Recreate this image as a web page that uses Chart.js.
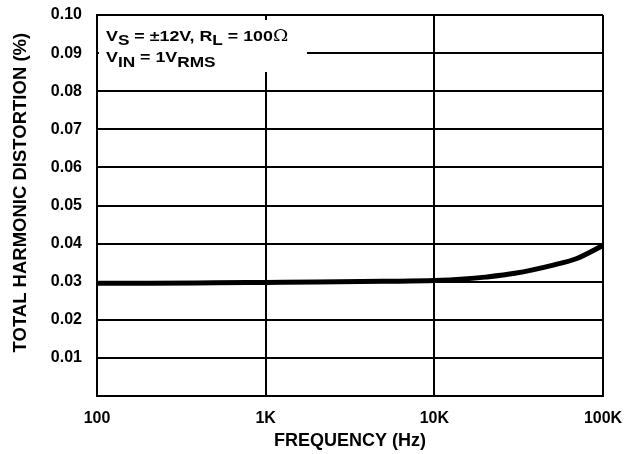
<!DOCTYPE html>
<html>
<head>
<meta charset="utf-8">
<script src="https://cdn.jsdelivr.net/npm/chart.js@4/dist/chart.umd.min.js"></script>
<style>
  html, body { margin: 0; padding: 0; background: #fff; }
  #wrap { width: 642px; height: 454px; position: relative; }
</style>
</head>
<body>
<div id="wrap"><canvas id="c"></canvas></div>
<script>
// Frequency sweep (Hz) and measured THD (%)
const frequencyHz = [100, 200, 500, 1000, 2000, 5000, 10000, 15000, 20000, 30000, 50000, 70000, 100000];
const thdPercent  = [0.0296, 0.0296, 0.0297, 0.0298, 0.0299, 0.0301, 0.0303, 0.0307, 0.0312, 0.0322, 0.0343, 0.0361, 0.0395];

// Axis tick values and labels
const xTickValues = [100, 1000, 10000, 100000];
const xTickLabels = ['100', '1K', '10K', '100K'];
const yTickValues = [0.01, 0.02, 0.03, 0.04, 0.05, 0.06, 0.07, 0.08, 0.09, 0.10];

const FONT = '"Liberation Sans", Arial, sans-serif';

// Test-condition box in the upper-left corner of the plot
const conditionLines = [
  [{ t: 'V' }, { t: 'S', sub: true }, { t: ' = \u00B112V, R' }, { t: 'L', sub: true }, { t: ' = 100' }, { t: '\u03A9', omega: true }],
  [{ t: 'V' }, { t: 'IN', sub: true }, { t: ' = 1V' }, { t: 'RMS', sub: true }]
];

const conditionBox = {
  id: 'conditionBox',
  afterDatasetsDraw(chart) {
    const { ctx, chartArea } = chart;
    const left = chartArea.left + 2;
    const top = chartArea.top + 5;
    ctx.save();
    ctx.fillStyle = '#fff';
    ctx.fillRect(left, top, 208, 52);
    ctx.fillStyle = '#000';
    ctx.textBaseline = 'alphabetic';
    const baselines = [top + 21, top + 42];
    const subDrop = [4, 5];
    const sx = 1.15;
    conditionLines.forEach((runs, i) => {
      let x = (left + 7) / sx;
      runs.forEach(r => {
        let y = baselines[i];
        if (r.sub) { ctx.font = 'bold 15px ' + FONT; y += subDrop[i]; }
        else if (r.omega) { ctx.font = '16px "DejaVu Serif", serif'; }
        else { ctx.font = 'bold 15.5px ' + FONT; }
        ctx.save();
        ctx.scale(sx, 1);
        ctx.fillText(r.t, x, y);
        ctx.restore();
        x += ctx.measureText(r.t).width;
      });
    });
    ctx.restore();
  }
};

new Chart(document.getElementById('c'), {
  type: 'line',
  data: {
    datasets: [{
      data: frequencyHz.map((f, i) => ({ x: f, y: thdPercent[i] })),
      borderColor: '#000',
      borderWidth: 5,
      pointRadius: 0,
      fill: false,
      cubicInterpolationMode: 'monotone'
    }]
  },
  plugins: [conditionBox],
  options: {
    responsive: true,
    maintainAspectRatio: false,
    animation: false,
    layout: { padding: { top: 15, right: 39, bottom: 0, left: 0 } },
    plugins: { legend: { display: false }, tooltip: { enabled: false } },
    scales: {
      x: {
        type: 'logarithmic',
        min: 100,
        max: 100000,
        afterBuildTicks(scale) { scale.ticks = xTickValues.map(v => ({ value: v })); },
        afterFit(scale) { scale.height = 58; scale.paddingLeft = 0; scale.paddingRight = 0; },
        ticks: {
          color: '#000',
          font: { family: FONT, size: 16, weight: 'bold' },
          padding: 13,
          maxRotation: 0,
          autoSkip: false,
          callback(v) { const k = xTickValues.indexOf(v); return k >= 0 ? xTickLabels[k] : ''; }
        },
        grid: { color: '#000', lineWidth: 2, drawTicks: false },
        border: { color: '#000', width: 2 },
        title: {
          display: true,
          text: 'FREQUENCY (Hz)',
          color: '#000',
          font: { family: FONT, size: 18, weight: 'bold' },
          padding: { top: 0, bottom: 2 }
        }
      },
      y: {
        type: 'linear',
        min: 0,
        max: 0.1,
        afterBuildTicks(scale) { scale.ticks = [0].concat(yTickValues).map(v => ({ value: v })); },
        afterFit(scale) { scale.width = 97; scale.paddingTop = 0; scale.paddingBottom = 0; },
        ticks: {
          color: '#000',
          font: { family: FONT, size: 16, weight: 'bold' },
          padding: 15,
          callback(v) { return v === 0 ? '' : v.toFixed(2); }
        },
        grid: { color: '#000', lineWidth: 2, drawTicks: false },
        border: { color: '#000', width: 2 },
        title: {
          display: true,
          text: '     TOTAL HARMONIC DISTORTION (%)',
          color: '#000',
          font: { family: FONT, size: 18.5, weight: 'bold' },
          padding: { top: 10, bottom: 0 }
        }
      }
    }
  }
});
</script>
</body>
</html>
